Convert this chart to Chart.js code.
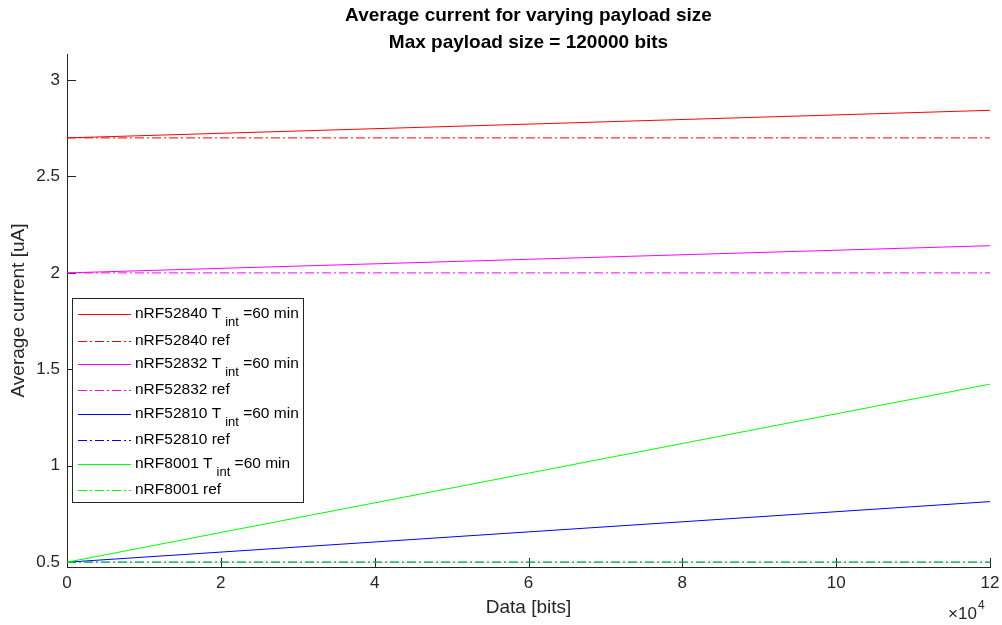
<!DOCTYPE html>
<html>
<head>
<meta charset="utf-8">
<script src="https://cdn.jsdelivr.net/npm/chart.js@4/dist/chart.umd.min.js"></script>
<style>
  html, body { margin: 0; padding: 0; background: #fff; }
  canvas { display: block; }
</style>
</head>
<body>
<canvas id="chart" width="1002" height="625"></canvas>
<script>
// payload size in bits
const xBits = [0, 120000];
const xTicks = [0, 20000, 40000, 60000, 80000, 100000, 120000];
const yTicks = [0.5, 1, 1.5, 2, 2.5, 3];

// average current [uA]
const nrf52840 = [2.70, 2.843];
const nrf52840Ref = [2.70, 2.70];
const nrf52832 = [2.00, 2.141];
const nrf52832Ref = [2.00, 2.00];
const nrf52810 = [0.50, 0.814];
const nrf52810Ref = [0.50, 0.50];
const nrf8001 = [0.50, 1.423];
const nrf8001Ref = [0.50, 0.50];

const seriesData = [nrf52840, nrf52840Ref, nrf52832, nrf52832Ref, nrf52810, nrf52810Ref, nrf8001, nrf8001Ref];
const seriesColors = ["#ff0000", "#ff0000", "#ff00ff", "#ff00ff", "#0000ff", "#0000ff", "#00ff00", "#00ff00"];
const seriesIsRef = [false, true, false, true, false, true, false, true];
// legend text: [main, subscript, tail]
const seriesLabels = [
  ["nRF52840 T", "int", " =60 min"],
  ["nRF52840 ref", "", ""],
  ["nRF52832 T", "int", " =60 min"],
  ["nRF52832 ref", "", ""],
  ["nRF52810 T", "int", " =60 min"],
  ["nRF52810 ref", "", ""],
  ["nRF8001 T", "int", " =60 min"],
  ["nRF8001 ref", "", ""]
];

const titleLines = ["Average current for varying payload size", "Max payload size = 120000 bits"];
const xTitle = "Data [bits]";
const yTitle = "Average current [uA]";

const FONT = "'Liberation Sans', Arial, Helvetica, sans-serif";
const AXIS_COLOR = "#262626";
const DASH_DOT = [9, 3, 2, 3];

const datasets = seriesData.map((vals, i) => ({
  label: seriesLabels[i].join(""),
  data: vals.map((v, j) => ({ x: xBits[j], y: v })),
  borderColor: seriesColors[i],
  borderWidth: 1,
  borderDash: seriesIsRef[i] ? DASH_DOT : [],
  pointRadius: 0,
  fill: false,
  tension: 0,
  order: seriesData.length - i
}));

const matlabLook = {
  id: "matlabLook",
  beforeDatasetsDraw(chart) {
    const { ctx, chartArea: a, scales: { x, y } } = chart;
    ctx.save();
    ctx.strokeStyle = AXIS_COLOR;
    ctx.lineWidth = 1;
    ctx.beginPath();
    for (const v of xTicks) {
      const px = Math.round(x.getPixelForValue(v)) + 0.5;
      ctx.moveTo(px, a.bottom);
      ctx.lineTo(px, a.bottom - 9);
    }
    for (const v of yTicks) {
      const py = Math.round(y.getPixelForValue(v)) + 0.5;
      ctx.moveTo(a.left, py);
      ctx.lineTo(a.left + 9, py);
    }
    ctx.stroke();
    ctx.restore();
  },
  afterDraw(chart) {
    const { ctx, chartArea: a } = chart;
    const cx = (a.left + a.right) / 2;
    ctx.save();

    // title
    ctx.fillStyle = "#000";
    ctx.textAlign = "center";
    ctx.textBaseline = "middle";
    ctx.font = "bold 19px " + FONT;
    ctx.fillText(titleLines[0], cx, 16);
    ctx.fillText(titleLines[1], cx, 43);

    // axis titles
    ctx.fillStyle = AXIS_COLOR;
    ctx.font = "19px " + FONT;
    ctx.fillText(xTitle, cx, 608);
    ctx.save();
    ctx.translate(19, (a.top + a.bottom) / 2);
    ctx.rotate(-Math.PI / 2);
    ctx.fillText(yTitle, 0, 0);
    ctx.restore();

    // x10^4 exponent
    ctx.textAlign = "left";
    ctx.textBaseline = "alphabetic";
    ctx.font = "17px " + FONT;
    ctx.fillText("\u00d710", 948, 619);
    ctx.font = "12px " + FONT;
    ctx.fillText("4", 978, 609);

    // legend
    const box = { x: 72.5, y: 298.5, w: 231, h: 204 };
    ctx.fillStyle = "#fff";
    ctx.fillRect(box.x, box.y, box.w, box.h);
    ctx.strokeStyle = AXIS_COLOR;
    ctx.lineWidth = 1;
    ctx.strokeRect(box.x, box.y, box.w, box.h);

    const rowY = [314, 340.5, 364, 389.5, 414, 440, 464, 490];
    seriesLabels.forEach((parts, i) => {
      const yy = rowY[i];
      ctx.save();
      ctx.strokeStyle = seriesColors[i];
      ctx.lineWidth = 1;
      ctx.setLineDash(seriesIsRef[i] ? DASH_DOT : []);
      ctx.beginPath();
      ctx.moveTo(78, Math.round(yy) + 0.5);
      ctx.lineTo(131, Math.round(yy) + 0.5);
      ctx.stroke();
      ctx.restore();

      ctx.fillStyle = "#000";
      ctx.textBaseline = "middle";
      ctx.font = "15.5px " + FONT;
      let tx = 135;
      ctx.fillText(parts[0], tx, yy);
      tx += ctx.measureText(parts[0]).width;
      if (parts[1]) {
        tx += 4;
        ctx.font = "13px " + FONT;
        ctx.fillText(parts[1], tx, yy + 8);
        tx += ctx.measureText(parts[1]).width;
        ctx.font = "15.5px " + FONT;
        ctx.fillText(parts[2], tx, yy);
      }
    });

    ctx.restore();
  }
};

new Chart(document.getElementById("chart"), {
  type: "line",
  data: { datasets },
  plugins: [matlabLook],
  options: {
    responsive: false,
    animation: false,
    layout: { padding: { left: 0, top: 54, right: 12, bottom: 0 } },
    plugins: {
      legend: { display: false },
      title: { display: false },
      tooltip: { enabled: false }
    },
    scales: {
      x: {
        type: "linear",
        min: 0,
        max: 120000,
        afterBuildTicks: (s) => { s.ticks = xTicks.map(v => ({ value: v })); },
        afterFit: (s) => { s.height = 58; s.paddingLeft = 0; s.paddingRight = 0; },
        ticks: {
          callback: (v) => String(v / 10000),
          color: AXIS_COLOR,
          font: { family: FONT, size: 17 },
          padding: 6,
          maxRotation: 0
        },
        grid: { display: true, drawOnChartArea: false, drawTicks: false },
        border: { display: true, color: AXIS_COLOR, width: 1 }
      },
      y: {
        type: "linear",
        min: 0.475,
        max: 3.135,
        afterBuildTicks: (s) => { s.ticks = yTicks.map(v => ({ value: v })); },
        afterFit: (s) => { s.width = 67; s.paddingTop = 0; s.paddingBottom = 0; },
        ticks: {
          callback: (v) => String(v),
          color: AXIS_COLOR,
          font: { family: FONT, size: 17 },
          padding: 7
        },
        grid: { display: true, drawOnChartArea: false, drawTicks: false },
        border: { display: true, color: AXIS_COLOR, width: 1 }
      }
    }
  }
});
</script>
</body>
</html>
